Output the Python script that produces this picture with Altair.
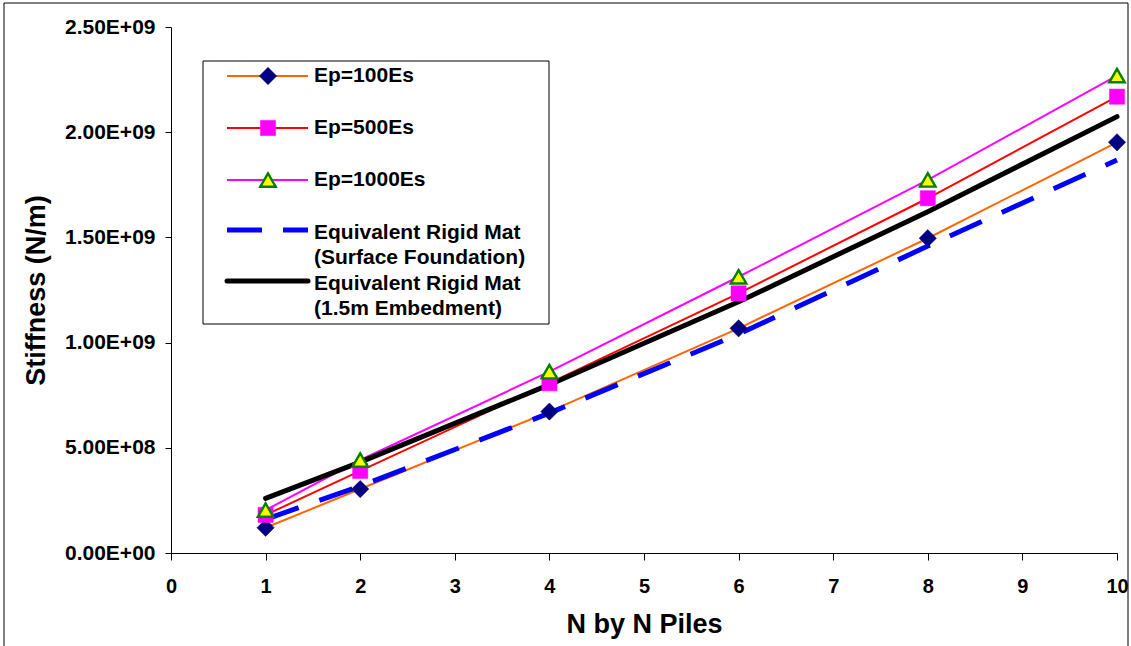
import altair as alt
import pandas as pd

# Pile group size (N x N piles) and vertical stiffness results in N/m
n_piles = [1, 2, 4, 6, 8, 10]
ep_100es = [0.120e9, 0.304e9, 0.672e9, 1.068e9, 1.496e9, 1.952e9]
ep_500es = [0.181e9, 0.390e9, 0.807e9, 1.234e9, 1.686e9, 2.169e9]
ep_1000es = [0.204e9, 0.442e9, 0.862e9, 1.313e9, 1.773e9, 2.269e9]
mat_surface = [0.160e9, 0.318e9, 0.665e9, 1.040e9, 1.459e9, 1.868e9]
mat_embedded = [0.260e9, 0.432e9, 0.800e9, 1.194e9, 1.622e9, 2.074e9]

series_keys = ["ep100", "ep500", "ep1000", "surface", "embedded"]
series_values = [ep_100es, ep_500es, ep_1000es, mat_surface, mat_embedded]

x_ticks = list(range(0, 11))
y_ticks = [0, 5e8, 1e9, 1.5e9, 2e9, 2.5e9]
y_tick_labels = ["0.00E+00", "5.00E+08", "1.00E+09", "1.50E+09", "2.00E+09", "2.50E+09"]

legend_lines = [
    ["Ep=100Es"],
    ["Ep=500Es"],
    ["Ep=1000Es"],
    ["Equivalent Rigid Mat", "(Surface Foundation)"],
    ["Equivalent Rigid Mat", "(1.5m Embedment)"],
]

FONT = "Liberation Sans"

rows = []
for key, vals in zip(series_keys, series_values):
    for n, v in zip(n_piles, vals):
        rows.append({"series": key, "n": n, "k": v})
df = pd.DataFrame(rows)

# y labels in spreadsheet-style scientific notation
label_expr = "''"
for v, lab in reversed(list(zip(y_ticks, y_tick_labels))):
    label_expr = f"datum.value == {int(v)} ? '{lab}' : ({label_expr})"

x_enc = alt.X(
    "n:Q",
    scale=alt.Scale(domain=[0, 10], nice=False),
    axis=alt.Axis(
        values=x_ticks, format="d", title="N by N Piles", grid=False,
        tickSize=7, labelPadding=16, labelFontSize=20, labelFlush=False,
        titleFontSize=27, titleY=71, titleBaseline="middle",
    ),
)
y_enc = alt.Y(
    "k:Q",
    scale=alt.Scale(domain=[0, 2.5e9], nice=False),
    axis=alt.Axis(
        values=y_ticks, labelExpr=label_expr, title="Stiffness (N/m)", grid=False,
        tickSize=6, labelPadding=10, labelFontSize=21, labelFlush=False,
        titleFontSize=27, titleX=-135, titleY=263, titleAngle=270,
        titleBaseline="middle", titleAlign="center",
    ),
)

base = alt.Chart(df)


def series(key):
    return base.transform_filter(alt.datum.series == key)


lines = [
    series("ep100").mark_line(color="#FF6600", strokeWidth=2).encode(x=x_enc, y=y_enc),
    series("ep500").mark_line(color="#FF0000", strokeWidth=2).encode(x=x_enc, y=y_enc),
    series("ep1000").mark_line(color="#FF00FF", strokeWidth=2).encode(x=x_enc, y=y_enc),
    series("surface").mark_line(color="#0000FF", strokeWidth=5, strokeDash=[35, 22]).encode(x=x_enc, y=y_enc),
    series("embedded").mark_line(color="#000000", strokeWidth=5, strokeCap="round", strokeJoin="round").encode(x=x_enc, y=y_enc),
]

diamond_style = dict(shape="diamond", filled=True, size=300, fill="#000080", stroke="#000080", strokeWidth=0.5, opacity=1)
square_style = dict(shape="square", filled=True, size=230, fill="#FF00FF", stroke="#FF00FF", strokeWidth=0.5, opacity=1)
triangle_style = dict(shape="triangle-up", filled=True, size=240, fill="#FFFF00", stroke="#008000", strokeWidth=2.4, opacity=1)

markers = [
    series("ep100").mark_point(**diamond_style).encode(x=x_enc, y=y_enc),
    series("ep500").mark_point(**square_style).encode(x=x_enc, y=y_enc),
    series("ep1000").mark_point(**triangle_style).encode(x=x_enc, y=y_enc),
]

# Legend panel, drawn inside the plot area
one = alt.Data(values=[{"a": 1}])
legend = [
    alt.Chart(one).mark_rect(fill="white", stroke="black", strokeWidth=1).encode(
        x=alt.value(32), x2=alt.value(378), y=alt.value(34), y2=alt.value(297)
    )
]

sample_x0, sample_x1, marker_x, text_x = 56, 137, 97, 143
entry_y = [49, 101, 153, 203, 254]
sample_styles = [
    dict(color="#FF6600", strokeWidth=2),
    dict(color="#FF0000", strokeWidth=2),
    dict(color="#FF00FF", strokeWidth=2),
    dict(color="#0000FF", strokeWidth=5, strokeDash=[35, 21]),
    dict(color="#000000", strokeWidth=5, strokeCap="round"),
]
sample_markers = [diamond_style, square_style, triangle_style, None, None]

for i, ey in enumerate(entry_y):
    legend.append(
        alt.Chart(one).mark_rule(**sample_styles[i]).encode(
            x=alt.value(sample_x0), x2=alt.value(sample_x1), y=alt.value(ey)
        )
    )
    if sample_markers[i]:
        legend.append(
            alt.Chart(one).mark_point(**sample_markers[i]).encode(
                x=alt.value(marker_x), y=alt.value(ey)
            )
        )
    lines_txt = legend_lines[i]
    if len(lines_txt) == 1:
        ys = [ey]
    else:
        ys = [ey + 3, ey + 28]
    for t, ty in zip(lines_txt, ys):
        legend.append(
            alt.Chart(one).mark_text(
                align="left", baseline="middle", font=FONT, fontSize=21,
                fontWeight="bold", color="black",
            ).encode(x=alt.value(text_x), y=alt.value(ty), text=alt.value(t))
        )

# Frame around the whole chart
frame = alt.Chart(one).mark_rect(fillOpacity=0, stroke="black", strokeWidth=1).encode(
    x=alt.value(-167), x2=alt.value(957), y=alt.value(-24), y2=alt.value(640)
)

chart = (
    alt.layer(*lines, *markers, *legend, frame)
    .properties(
        width=946,
        height=526,
        autosize=alt.AutoSizeParams(type="none"),
        padding={"left": 171, "top": 27, "right": 14, "bottom": 93},
        background="white",
    )
    .configure_view(stroke=None)
    .configure_axis(
        labelFont=FONT, titleFont=FONT, labelFontWeight="bold", titleFontWeight="bold",
        labelColor="black", titleColor="black", domainColor="black", tickColor="black",
        domainWidth=1, tickWidth=1,
    )
)

chart.save("out.html", embed_options={"renderer": "svg", "actions": False})
